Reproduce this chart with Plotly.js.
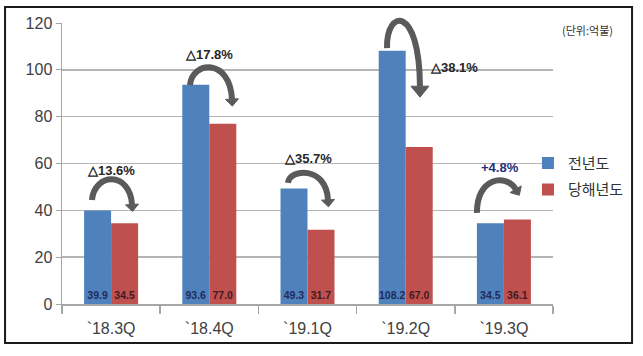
<!DOCTYPE html>
<html><head><meta charset="utf-8">
<script src="https://cdn.plot.ly/plotly-3.0.1.min.js"></script>
<style>html,body{margin:0;padding:0;background:#fff}</style>
</head><body><div id="chart" style="width:643px;height:356px"></div>
<script>
const categories = ["`18.3Q", "`18.4Q", "`19.1Q", "`19.2Q", "`19.3Q"];
const seriesNames = ["전년도", "당해년도"];
const prevYear = [39.9, 93.6, 49.3, 108.2, 34.5];
const currYear = [34.5, 77.0, 31.7, 67.0, 36.1];
const changeLabels = ["△13.6%", "△17.8%", "△35.7%", "△38.1%", "+4.8%"];
const unitLabel = "(단위:억불)";

const BLUE = "#4f81bd", RED = "#c0504d", ARROW = "#5a5a5a";
const yMax = 120;
const sans = "Liberation Sans, Arial, sans-serif";

const traces = [
  { type: "bar", name: seriesNames[0], x: categories, y: prevYear, marker: { color: BLUE },
    text: prevYear.map(v => v.toFixed(1)), textposition: "inside", insidetextanchor: "start",
    constraintext: "none", textangle: 0,
    textfont: { family: sans, size: 10.5, weight: "bold", color: "#1f2d5c" }, legendgroup: "a", hoverinfo: "y" },
  { type: "bar", name: seriesNames[1], x: categories, y: currYear, marker: { color: RED },
    text: currYear.map(v => v.toFixed(1)), textposition: "inside", insidetextanchor: "start",
    constraintext: "none", textangle: 0,
    textfont: { family: sans, size: 10.5, weight: "bold", color: "#3f1a22" }, legendgroup: "b", hoverinfo: "y" }
];

// curved arrows: x in category index units, y in value units
const sx = 98.2, sy = 281 / yMax;
const arrows = [
  { p0: [-0.195, 44.4], c1: [-0.17, 56], c2: [0.19, 57], p3: [0.213, 42.5], len: 7, w: 13 },
  { p0: [0.803, 93.5], c1: [0.83, 104], c2: [1.21, 105], p3: [1.231, 87.5], len: 7, w: 13 },
  { p0: [1.801, 51.7], c1: [1.82, 58], c2: [2.19, 59], p3: [2.209, 44.5], len: 7, w: 13 },
  { p0: [2.81, 109.3], c1: [2.80, 126], c2: [3.14, 128], p3: [3.145, 93], len: 11, w: 18 },
  { p0: [3.726, 38.9], c1: [3.72, 54], c2: [4.02, 56], p3: [4.12, 49], len: 7, w: 13 }
];
const P = (x, y) => x + "," + (y / yMax);
const shapes = [];
arrows.forEach(a => {
  shapes.push({ type: "path", xref: "x", yref: "paper", layer: "above",
    path: "M" + P(...a.p0) + " C" + P(...a.c1) + " " + P(...a.c2) + " " + P(...a.p3),
    line: { color: ARROW, width: 6 }, fillcolor: "rgba(0,0,0,0)" });
  let dx = (a.p3[0] - a.c2[0]) * sx, dy = (a.p3[1] - a.c2[1]) * sy;
  const n = Math.hypot(dx, dy); dx /= n; dy /= n;
  const tip = [a.p3[0] + dx * a.len / sx, a.p3[1] + dy * a.len / sy];
  const px = -dy, py = dx;
  const b1 = [a.p3[0] + px * a.w / 2 / sx, a.p3[1] + py * a.w / 2 / sy];
  const b2 = [a.p3[0] - px * a.w / 2 / sx, a.p3[1] - py * a.w / 2 / sy];
  shapes.push({ type: "path", xref: "x", yref: "paper", layer: "above",
    path: "M" + P(...tip) + " L" + P(...b1) + " L" + P(...b2) + " Z",
    line: { color: ARROW, width: 1 }, fillcolor: ARROW });
});
// outer frame
shapes.push({ type: "rect", xref: "paper", yref: "paper", x0: -0.116, x1: 1.161, y0: -0.139, y1: 1.057,
  line: { color: "#1a1a1a", width: 2 } });

const labelPos = [[0, 57], [1.0, 106.5], [2.005, 62], [3.49, 100.8], [3.96, 58.5]];
const annotations = changeLabels.map((t, i) => ({
  x: labelPos[i][0], y: labelPos[i][1], xref: "x", yref: "y", text: "<b>" + t + "</b>", showarrow: false,
  font: { family: sans, size: 13, color: t.startsWith("+") ? "#1f2f7a" : "#262626" },
  xanchor: "center", yanchor: "middle"
}));
annotations.push({ x: 1.071, y: 0.975, xref: "paper", yref: "paper", text: unitLabel, showarrow: false,
  font: { family: "Noto Sans CJK KR, sans-serif", size: 11, color: "#333" }, xanchor: "center", yanchor: "middle" });

const layout = {
  width: 643, height: 356,
  margin: { l: 62, r: 90, t: 23, b: 52, pad: 0 },
  paper_bgcolor: "#fff", plot_bgcolor: "#fff",
  barmode: "group", bargap: 0.45, bargroupgap: 0,
  showlegend: true,
  legend: { x: 0.949, y: 0.56, xanchor: "left", yanchor: "top", bgcolor: "rgba(0,0,0,0)",
    traceorder: "grouped", tracegroupgap: 4,
    font: { family: "Noto Sans CJK KR, sans-serif", size: 15, color: "#333" } },
  xaxis: { type: "category", showgrid: false, showline: true, linecolor: "#a6a6a6", linewidth: 1.5,
    ticks: "outside", tickson: "boundaries", ticklen: 8, tickcolor: "#a6a6a6", tickwidth: 1.5,
    ticklabelstandoff: 9,
    tickfont: { family: sans, size: 16, color: "#404040" }, automargin: false },
  yaxis: { range: [0, yMax], dtick: 20, showgrid: true, gridcolor: "#b5b5b5", gridwidth: 1.5,
    showline: true, linecolor: "#a6a6a6", linewidth: 1.5, ticks: "outside", ticklen: 5,
    tickcolor: "#a6a6a6", zeroline: false,
    tickfont: { family: sans, size: 16, color: "#404040" }, automargin: false },
  shapes: shapes, annotations: annotations
};
Plotly.newPlot("chart", traces, layout, { displayModeBar: false, staticPlot: true });
</script></body></html>
